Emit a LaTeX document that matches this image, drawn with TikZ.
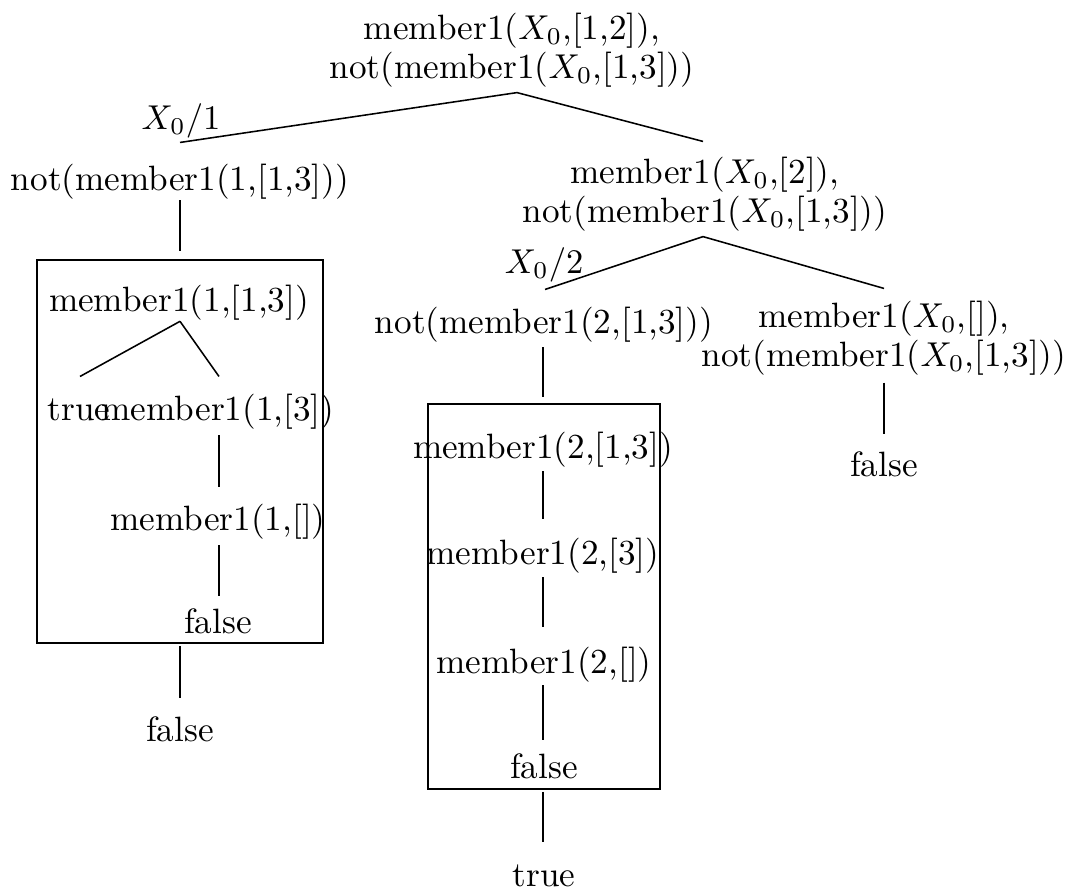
\documentclass[tikz,border=0pt]{standalone}
\usetikzlibrary{calc}
\begin{document}
\begin{tikzpicture}[x=0.29pt,y=-0.29pt,
  lbl/.style={inner sep=0pt, anchor=base, text height=7.5pt, text depth=2.5pt, font=\fontsize{10.2}{11.2}\selectfont},
  two/.style={inner sep=0pt, anchor=center, align=center, font=\fontsize{10.2}{11.2}\selectfont},
  boxframe/.style={draw, line width=0.5pt, inner sep=0pt},
  conn/.style={line width=0.45pt}]
\useasboundingbox (0,0) rectangle (1069,893);

% root
\node[two] (root) at (512,50) {member1($X_0$,[1,2]),\\not(member1($X_0$,[1,3]))};

% left branch
\node[lbl] (l1) at (181,129) {$X_0/1$};
\node[lbl] (c1) at (180,190) {not(member1(1,[1,3]))};
\node[boxframe, minimum width=82.94pt, minimum height=111.07pt] (box1) at (180,451.5) {};
\node[lbl] (b1a) at (179,311) {member1(1,[1,3])};
\node[lbl] (b1t) at (79,420) {true};
\node[lbl] (b1c) at (218,420) {member1(1,[3])};
\node[lbl] (b1d) at (218,530) {member1(1,[])};
\node[lbl] (b1f) at (218,633) {false};
\node[lbl] (c1f) at (180,741) {false};

% right branch
\node[two] (c2) at (705,194) {member1($X_0$,[2]),\\not(member1($X_0$,[1,3]))};
\node[lbl] (l2) at (544,273) {$X_0/2$};
\node[lbl] (c21) at (544,333) {not(member1(2,[1,3]))};
\node[two] (c22) at (884,338) {member1($X_0$,[]),\\not(member1($X_0$,[1,3]))};
\node[boxframe, minimum width=67.28pt, minimum height=111.65pt] (box2) at (544,596.5) {};
\node[lbl] (b2a) at (543,458) {member1(2,[1,3])};
\node[lbl] (b2b) at (543,564) {member1(2,[3])};
\node[lbl] (b2c) at (544,673) {member1(2,[])};
\node[lbl] (b2d) at (544,778) {false};
\node[lbl] (c21f) at (544,886) {true};
\node[lbl] (c22f) at (884,476) {false};

% connectors
\draw[conn] ($(root.south)+(5,5)$) -- ($(c1.north)+(0,-21)$);
\draw[conn] ($(root.south)+(5,5)$) -- ($(c2.north)+(-2,-15)$);
\draw[conn] ($(c1.south)+(0,1)$) -- ($(box1.north)+(0,-8)$);
\draw[conn] ($(box1.south)+(0,2)$) -- ($(c1f.north)+(0,-16)$);
\draw[conn] ($(b1a.south)+(1,1)$) -- ($(b1t.north)+(1,-17)$);
\draw[conn] ($(b1a.south)+(1,1)$) -- ($(b1c.north)+(1,-17)$);
\draw[conn] ($(b1c.south)+(1,6)$) -- ($(b1d.north)+(1,-16)$);
\draw[conn] ($(b1d.south)+(1,6)$) -- ($(b1f.north)+(1,-10)$);

\draw[conn] ($(c2.south)+(-2,5)$) -- ($(c21.north)+(1,-17)$);
\draw[conn] ($(c2.south)+(-2,5)$) -- ($(c22.north)+(0,-12)$);
\draw[conn] ($(c21.south)+(-1,5)$) -- ($(box2.north)+(-1,-6)$);
\draw[conn] ($(b2a.south)+(0,4)$) -- ($(b2b.north)+(0,-18)$);
\draw[conn] ($(b2b.south)+(0,4)$) -- ($(b2c.north)+(-1,-19)$);
\draw[conn] ($(b2c.south)+(-1,3)$) -- ($(b2d.north)+(-1,-11)$);
\draw[conn] ($(box2.south)+(-1,2)$) -- ($(c21f.north)+(-1,-17)$);
\draw[conn] ($(c22.south)+(0,7)$) -- ($(c22f.north)+(0,-15)$);
\end{tikzpicture}
\end{document}
